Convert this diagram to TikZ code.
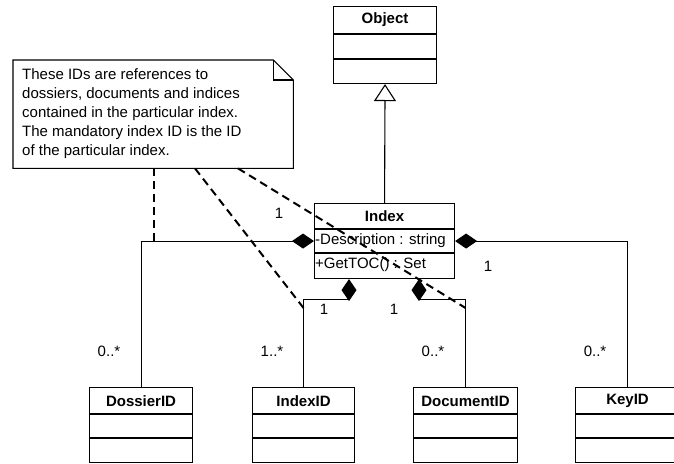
\documentclass[tikz,border=0pt]{standalone}
\usepackage{fontspec}
\setmainfont{Liberation Sans}
\usetikzlibrary{arrows.meta,calc}
\newcommand{\umlclass}[7]{%
  \node[box,minimum width=#4pt,minimum height=#5pt] (#1) at (#2,#3) {};
  \draw[assoc] ($(#1.north west)+(0,#6)$) -- ($(#1.north east)+(0,#6)$);
  \draw[assoc] ($(#1.north west)+(0,#7)$) -- ($(#1.north east)+(0,#7)$);
}
\begin{document}
\begin{tikzpicture}[x=1pt,y=-1pt,
  box/.style={draw,line width=1.1pt,fill=white,inner sep=0pt,anchor=north west},
  cname/.style={font=\fontsize{15}{17}\selectfont\bfseries,inner sep=0pt},
  ctext/.style={font=\fontsize{15}{17}\selectfont,anchor=west,inner sep=1pt},
  mult/.style={font=\fontsize{15}{17}\selectfont,inner sep=0pt},
  assoc/.style={line width=1.1pt},
  comp/.style={assoc,{Diamond[length=22pt,width=15pt]}-},
  inh/.style={assoc,-{Triangle[open,length=17pt,width=22pt]}},
  anchorline/.style={line width=2pt,dash pattern=on 8pt off 5pt}]
\useasboundingbox[fill=white] (0,0) rectangle (674,463);

% classes
\umlclass{object}{333}{6}{103}{77}{28}{53}
\node[cname] (objectlabel) at ($(object.north)+(0,14)$) {Object};
\umlclass{index}{314}{203}{140}{75}{26}{50}
\node[cname] (indexlabel) at ($(index.north)+(0,13)$) {Index};
\node[ctext] (desc) at ($(index.north west)+(0,38)$) {-Description : string};
\node[ctext] (gettoc) at ($(index.north west)+(0,62)$) {+GetTOC() : Set};
\umlclass{dossier}{89}{387}{103}{75}{27}{51}
\node[cname] (dossierlabel) at ($(dossier.north)+(0,14)$) {DossierID};
\umlclass{indexid}{252}{387}{102}{75}{27}{51}
\node[cname] (indexidlabel) at ($(indexid.north)+(0,14)$) {IndexID};
\umlclass{docid}{413}{387}{104}{75}{27}{51}
\node[cname] (docidlabel) at ($(docid.north)+(0,14)$) {DocumentID};
\umlclass{keyid}{575}{387}{104}{75}{27}{51}
\node[cname] (keyidlabel) at ($(keyid.north)+(0,14)$) {KeyID};

% note
\node[inner sep=0pt,minimum width=280pt,minimum height=108pt,anchor=north west] (note) at (13,60) {};
\draw[assoc,fill=white] (note.south west) -- (note.north west) -- ($(note.north east)+(-20,0)$)
  -- ($(note.north east)+(0,20)$) -- (note.south east) -- cycle;
\draw[assoc] ($(note.north east)+(-20,0)$) -- ($(note.north east)+(-20,20)$) -- ($(note.north east)+(0,20)$);
\node[anchor=north west,inner sep=0pt,align=left,font=\fontsize{15}{19}\selectfont] (notetext) at (22,68)
  {These IDs are references to\\dossiers, documents and indices\\contained in the particular index.\\The mandatory index ID is the ID\\of the particular index.};

% connectors
\draw[inh] (index.north) -- (object.south);
\draw[comp] (index.west) -| (dossier.north);
\draw[comp] (index.east) -| (keyid.north);
\coordinate (ib1) at ($(index.south west)+(35,0)$);
\coordinate (ib2) at ($(index.south west)+(105,0)$);
\draw[comp] (ib1) -- ++(0,20) -| (indexid.north);
\draw[comp] (ib2) -- ++(0,20) -| (docid.north);

% multiplicities
\node[mult] (m1) at (279,213) {1};
\node[mult] (m2) at (488,266) {1};
\node[mult] (m3) at (324,309) {1};
\node[mult] (m4) at (394,309) {1};
\node[mult] (m5) at (109,351) {0..*};
\node[mult] (m6) at (272,351) {1..*};
\node[mult] (m7) at (433,351) {0..*};
\node[mult] (m8) at (595,351) {0..*};

% note anchors
\coordinate (n1) at ($(note.south west)+(141,0)$);
\coordinate (n2) at ($(note.south west)+(182,0)$);
\coordinate (n3) at ($(note.south west)+(225,0)$);
\coordinate (e1) at (n1 |- index.west);
\coordinate (e2) at ($(indexid.north)+(0,-79)$);
\coordinate (e3) at ($(docid.north)+(0,-79)$);
\draw[anchorline] (n1) -- (e1);
\draw[anchorline] (n2) -- (e2);
\draw[anchorline] (n3) -- (e3);
\end{tikzpicture}
\end{document}
